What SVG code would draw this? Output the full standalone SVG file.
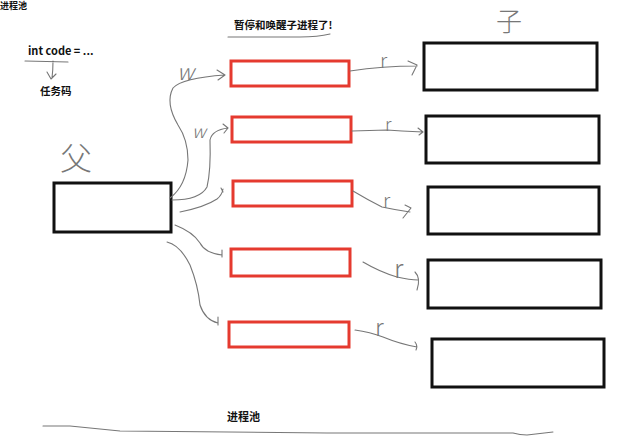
<svg xmlns="http://www.w3.org/2000/svg" width="641" height="437" viewBox="0 0 641 437">
<style>
.t{font-family:"Noto Sans CJK SC","Noto Sans",sans-serif;font-weight:bold;fill:#111;}
.hand{font-family:"Noto Sans CJK SC","DejaVu Sans",sans-serif;font-weight:300;fill:#777;}
.proc{fill:#fff;stroke:#111;stroke-width:3;}
.red{fill:#fff;stroke:#e53a2f;stroke-width:3;}
.c{fill:none;stroke:#777;stroke-width:1.1;stroke-linecap:round;stroke-linejoin:round;}
</style>
<rect width="641" height="437" fill="#fff"/>
<text class="t" x="0" y="9" font-size="9">进程池</text>
<g id="code-note">
<text class="t" x="28" y="55" font-size="11">int code = ...</text>
<path class="c" d="M25,61 L68,62 M53,61 Q53,70 52,78 M47,72 L51,79 L56,74"/>
<text class="t" x="40" y="95" font-size="10.5">任务码</text>
</g>
<g id="title">
<text class="t" x="234" y="29" font-size="10.5" font-weight="900">暂停和唤醒子进程了!</text>
<path class="c" d="M228,37 L300,37 Q318,37 330,34"/>
</g>
<g id="parent">
<text class="hand" x="60" y="170" font-size="32">父</text>
<rect class="proc" x="54" y="183" width="117" height="49"/>
</g>
<g id="child-label">
<text class="hand" x="496" y="31" font-size="26">子</text>
</g>
<g id="pool">
<rect id="p1" class="red" x="231" y="61" width="118" height="25"/>
<rect id="p2" class="red" x="232" y="117" width="119" height="25"/>
<rect id="p3" class="red" x="233" y="181" width="119" height="25"/>
<rect id="p4" class="red" x="231" y="249" width="119" height="27"/>
<rect id="p5" class="red" x="229" y="322" width="120" height="25"/>
</g>
<g id="children">
<rect id="c1" class="proc" x="424" y="43" width="173" height="47"/>
<rect id="c2" class="proc" x="426" y="116" width="173" height="47"/>
<rect id="c3" class="proc" x="428" y="187" width="171" height="47"/>
<rect id="c4" class="proc" x="428" y="260" width="173" height="48"/>
<rect id="c5" class="proc" x="432" y="339" width="172" height="48"/>
</g>
<g id="connectors">
<path class="c" d="M170,198 Q186,186 188,160 Q188,140 178,125 Q165,103 173,88 Q182,78 225,75 M217,70 L225,75 L218,80"/>
<path class="c" d="M172,200 Q200,200 207,187 Q211,170 210,140 Q212,130 228,128 M223,124 L228,128 L224,133"/>
<path class="c" d="M180,212 Q205,207 217,199 Q222,195 223,189 M221,188 L223,192"/>
<path class="c" d="M175,225 Q193,232 200,243 Q205,253 222,255 M222,250 L222,257"/>
<path class="c" d="M167,242 Q180,245 190,265 Q198,285 200,305 Q205,320 218,323 M218,317 L218,325"/>
<path class="c" d="M350,71 Q383,66 417,66 M408,61 L417,65 L412,75"/>
<path class="c" d="M352,131 L387,130 L402,131 L423,132 M418,128 L423,132 L419,135"/>
<path class="c" d="M353,191 Q368,200 382,207 Q396,210 410,212 M405,205 L411,208 L403,218"/>
<path class="c" d="M363,262 Q380,272 397,277 Q410,280 418,280 M415,272 Q421,278 417,290"/>
<path class="c" d="M355,330 Q370,332 383,337 Q400,344 417,347 M415,342 Q418,346 416,350"/>
<path class="c" d="M43,426 L70,426 L120,431 L327,433 L513,433 Q520,435 527,435 L553,432"/>
</g>
<g id="labels">
<text class="hand" x="177" y="80" font-size="22" font-style="italic">w</text>
<text class="hand" x="192" y="138" font-size="18" font-style="italic">w</text>
<text class="hand" x="380" y="68" font-size="20">r</text>
<text class="hand" x="385" y="131" font-size="18">r</text>
<text class="hand" x="383" y="208" font-size="20">r</text>
<text class="hand" x="394" y="278" font-size="26">r</text>
<text class="hand" x="375" y="336" font-size="24">r</text>
</g>
<text class="t" x="227" y="421" font-size="11">进程池</text>
</svg>
